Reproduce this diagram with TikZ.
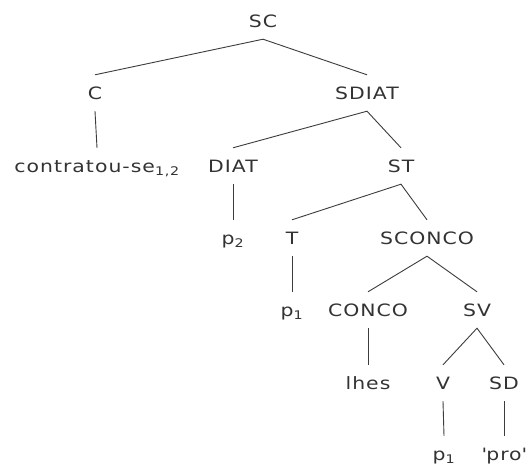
\documentclass[tikz,border=0pt]{standalone}
\usepackage{fontspec}
\setmainfont{DejaVu Sans}[FakeStretch=1.2,LetterSpace=6]
\usepackage{xcolor}
\usepackage{tikz}
\definecolor{cText}{HTML}{333333}
\definecolor{cEdge}{HTML}{3C3C3C}

\begin{document}
\begin{tikzpicture}[
  x=1pt, y=-1pt,
  every node/.style={font=\fontsize{17}{20}\selectfont, text=cText},
  cat/.style={inner sep=0pt, minimum height=36pt, text height=13pt, text depth=0pt},
  br/.style={draw=cEdge, line width=0.9pt}
]
\fill[white] (0,0) rectangle (528,468);
\useasboundingbox (0,0) rectangle (528,468);

% Root
\node[cat] (sc) at (263,21) {SC};

% Levels below the root
\node[cat] (c) at (95,93) {C};
\node[cat] (sdiat) at (367,93) {SDIAT};

\node[cat] (contr) at (97,166) {contratou-se\textsubscript{1,2}};
\node[cat] (diat) at (233,166) {DIAT};
\node[cat] (st) at (401,166) {ST};

\node[cat] (ptwo) at (233,238) {p\textsubscript{2}};
\node[cat] (t) at (292,238) {T};
\node[cat] (sconco) at (427,238) {SCONCO};

\node[cat] (pone) at (292,310) {p\textsubscript{1}};
\node[cat] (conco) at (368,310) {CONCO};
\node[cat] (sv) at (477,310) {SV};

\node[cat] (lhes) at (368,383) {lhes};
\node[cat] (v) at (443,383) {V};
\node[cat] (sd) at (504,383) {SD};

\node[cat] (poneb) at (444,454) {p\textsubscript{1}};
\node[cat] (pro) at (504,454) {\textquotesingle pro\textquotesingle};

% Branches
\draw[br] (c.north) -- (sc.south) -- (sdiat.north);
\draw[br] (c.south) -- (contr.north);
\draw[br] (diat.north) -- (sdiat.south) -- (st.north);
\draw[br] (diat.south) -- (ptwo.north);
\draw[br] (t.north) -- (st.south) -- (sconco.north);
\draw[br] (t.south) -- (pone.north);
\draw[br] (conco.north) -- (sconco.south) -- (sv.north);
\draw[br] (conco.south) -- (lhes.north);
\draw[br] (v.north) -- (sv.south) -- (sd.north);
\draw[br] (v.south) -- (poneb.north);
\draw[br] (sd.south) -- (pro.north);
\end{tikzpicture}
\end{document}
